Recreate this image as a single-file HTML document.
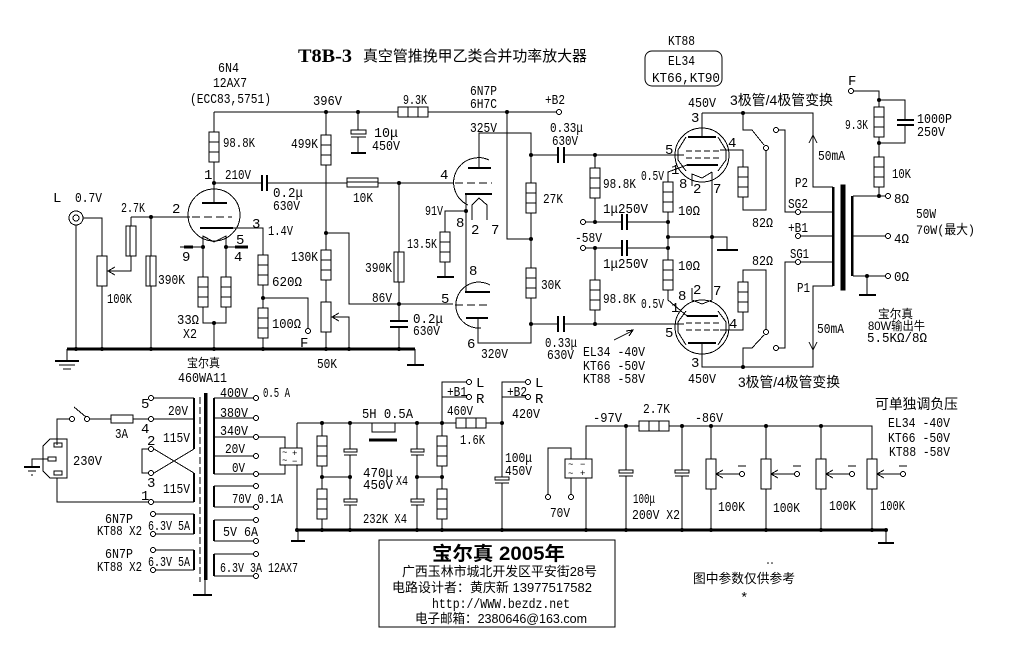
<!DOCTYPE html>
<html><head><meta charset="utf-8"><style>
html,body{margin:0;padding:0;background:#fff;}
svg{display:block}
.t{font-family:"Liberation Mono","DejaVu Sans Mono",monospace;font-size:14px;fill:#000;stroke:none}
.c{font-family:"Liberation Sans","Noto Sans CJK SC",sans-serif;font-size:14px;fill:#000;stroke:none}
.s{font-family:"Liberation Mono",monospace;font-size:9px;fill:#000;stroke:none}
</style></head><body>
<svg width="1014" height="665" viewBox="0 0 1014 665" xmlns="http://www.w3.org/2000/svg">
<rect x="0" y="0" width="1014" height="665" fill="#fff"/>
<g fill="none" stroke="#000" stroke-width="1" shape-rendering="crispEdges">
<!-- ===== PREAMP ===== -->
<path d="M214 112 H398 M428 112 H556 M214 112 V132 M214 162 V203 M214 183 H262 M267 183 H347 M378 183 H453"/>
<rect x="398" y="107" width="30" height="10" fill="#fff"/><path d="M408 107 V117 M418 107 V117"/>
<circle cx="559" cy="112" r="2.5" fill="#fff"/>
<rect x="209" y="132" width="10" height="30" fill="#fff"/><path d="M209 142 H219 M209 152 H219"/>
<path d="M262 175 V191 M267 175 V191" stroke-width="2"/>
<circle cx="214" cy="215" r="26"/>
<path d="M202 203 H227" stroke-width="2"/>
<path d="M131 217 H190"/>
<path d="M192 217 H232" stroke-dasharray="8,4"/>
<path d="M200 228 H233" stroke-width="2"/>
<path d="M233 228 H263 V255"/>
<path d="M203 247 V236 L214 242 L226 236 V247 M180 247 H203 M226 247 H248"/>
<path d="M184 247 H193 M235 247 H248" stroke-width="3"/>
<path d="M203 247 V277 M226 247 V277 M203 307 V323 H226 V307 M214 323 V349"/>
<rect x="198" y="277" width="10" height="30" fill="#fff"/><path d="M198 287 H208 M198 297 H208"/>
<rect x="221" y="277" width="10" height="30" fill="#fff"/><path d="M221 287 H231 M221 297 H231"/>
<rect x="258" y="255" width="10" height="30" fill="#fff"/><path d="M258 265 H268 M258 275 H268"/>
<path d="M263 285 V308 M263 298 H308 V328 M263 338 V349"/>
<circle cx="308" cy="331" r="2.5" fill="#fff"/>
<rect x="258" y="308" width="10" height="30" fill="#fff"/><path d="M258 318 H268 M258 328 H268"/>
<circle cx="76" cy="218" r="7"/><circle cx="76" cy="218" r="3"/>
<path d="M83 218 H102 V256 M102 286 V349 M76 225 V349"/>
<rect x="97" y="256" width="10" height="30" fill="#fff"/>
<path d="M108 271 H131 V256 M115 267 L108 271 L115 275"/>
<rect x="126" y="226" width="10" height="30" fill="#fff"/><path d="M130 226 V256"/>
<path d="M131 226 V217 M151 217 V256 M151 286 V349"/>
<rect x="146" y="256" width="10" height="30" fill="#fff"/><path d="M150 256 V286"/>
<path d="M67 349 H415" stroke-width="3"/>
<path d="M67 349 V361 M415 349 V365"/>
<path d="M55 361 H79 M407 365 H424" stroke-width="2"/>
<path d="M59 365 H75 M63 369 H71"/>
<!-- divider / 6N7P bias -->
<path d="M326 112 V135 M326 165 V250 M326 280 V302 M326 332 V349 M326 233 H349 V304 H453 M332 317 H349 V349 M339 313 L332 317 L339 321"/>
<rect x="321" y="135" width="10" height="30" fill="#fff"/><path d="M321 145 H331 M321 155 H331"/>
<rect x="321" y="250" width="10" height="30" fill="#fff"/><path d="M321 260 H331 M321 270 H331"/>
<rect x="321" y="302" width="10" height="30" fill="#fff"/>
<path d="M358 112 V130 M351 137 H366 M358 137 V153"/>
<rect x="351" y="130" width="15" height="4" fill="#fff"/>
<path d="M351 153 H366" stroke-width="2"/>
<path d="M399 183 V252 M399 282 V321 M399 327 V349"/>
<rect x="394" y="252" width="10" height="30" fill="#fff"/><path d="M398 252 V282"/>
<path d="M390 321 H408 M390 327 H408" stroke-width="2"/>
<rect x="347" y="178" width="31" height="9" fill="#fff"/><path d="M347 182 H378"/>
<!-- 6N7P -->
<path d="M507 112 V239 H531"/>
<path d="M489 160 A24 24 0 1 0 468 205"/>
<path d="M468 168 H491" stroke-width="2"/>
<path d="M479 168 V133 H531 V183 M531 213 V268 M531 298 V324"/>
<rect x="526" y="183" width="10" height="30" fill="#fff"/><path d="M526 193 H536 M526 203 H536"/>
<rect x="526" y="268" width="10" height="30" fill="#fff"/><path d="M526 278 H536 M526 288 H536"/>
<path d="M455 183 H492" stroke-dasharray="8,4"/>
<path d="M465 194 H492 M465 292 H490" stroke-width="2"/>
<path d="M466 194 V292 M466 211 H445 V232 M445 262 V277"/>
<rect x="440" y="232" width="10" height="30" fill="#fff"/><path d="M440 242 H450 M440 252 H450"/>
<path d="M437 277 H454" stroke-width="2"/>
<path d="M472 220 V205 L479 198 L487 205 V220"/>
<path d="M490 285 A23 23 0 1 0 481 328"/>
<path d="M455 305 H490" stroke-dasharray="8,4"/>
<path d="M466 318 H488" stroke-width="2"/>
<path d="M478 318 V343 H531 V324"/>
<path d="M531 155 H558 M564 155 H684 M531 324 H558 M564 324 H684"/>
<path d="M558 147 V163 M564 147 V163 M558 316 V332 M564 316 V332" stroke-width="2"/>
<!-- phase / bias network -->
<path d="M595 155 V168 M595 198 V222 M586 222 H622 M627 222 H668 M586 248 H622 M627 248 H668 M595 248 V280 M595 310 V324"/>
<rect x="590" y="168" width="10" height="30" fill="#fff"/><path d="M590 178 H600 M590 188 H600"/>
<rect x="590" y="280" width="10" height="30" fill="#fff"/><path d="M590 290 H600 M590 300 H600"/>
<path d="M622 214 V230 M627 214 V230 M622 240 V256 M627 240 V256" stroke-width="2"/>
<circle cx="583" cy="222" r="2.5" fill="#fff"/><circle cx="583" cy="248" r="2.5" fill="#fff"/>
<path d="M687 165 L668 172 V182 M668 212 V260 M668 290 V300 L687 316"/>
<rect x="663" y="182" width="10" height="30" fill="#fff"/><path d="M663 192 H673 M663 202 H673"/>
<rect x="663" y="260" width="10" height="30" fill="#fff"/><path d="M663 270 H673 M663 280 H673"/>
<path d="M668 237 H727 V250 M712 172 V300"/>
<path d="M717 250 H738" stroke-width="2"/>
<path d="M614 340 L632 331 M626 331 L633 330 L629 336"/>
<!-- KT88 upper -->
<circle cx="702" cy="155" r="27"/>
<path d="M686 137 L678 150 V160 L686 171 M718 137 L726 150 V160 L718 171"/>
<path d="M688 137 H716 M687 165 H718" stroke-width="2"/>
<path d="M686 151 H720 M686 158 H720" stroke-dasharray="6,3"/>
<path d="M692 186 V174 L702 178 L712 172"/>
<path d="M702 113 V137 M702 113 H813 V187 H833 M809 143 L813 135 L817 143"/>
<path d="M720 150 H743 V167 M743 197 V210 H766 V151"/>
<rect x="738" y="167" width="10" height="30" fill="#fff"/><path d="M738 177 H748 M738 187 H748"/>
<path d="M743 113 V130 H752 L764 145"/>
<circle cx="766" cy="148" r="2.5" fill="#fff"/>
<circle cx="776" cy="130" r="2.5" fill="#fff"/>
<path d="M779 130 H785 V212 H795 M801 212 H833 M801 236 H833 M801 262 H833 M795 262 H785 V348 H779"/>
<circle cx="798" cy="212" r="2.5" fill="#fff"/><circle cx="798" cy="236" r="2.5" fill="#fff"/><circle cx="798" cy="262" r="2.5" fill="#fff"/>
<circle cx="776" cy="348" r="2.5" fill="#fff"/>
<!-- KT88 lower -->
<circle cx="702" cy="327" r="27"/>
<path d="M686 311 L678 322 V332 L686 345 M718 311 L726 322 V332 L718 345"/>
<path d="M687 316 H718 M688 343 H716" stroke-width="2"/>
<path d="M686 323 H720 M686 330 H720" stroke-dasharray="6,3"/>
<path d="M692 288 V300 L702 304 L712 300"/>
<path d="M720 330 H743 V312 M743 282 V270 H766 V329"/>
<rect x="738" y="282" width="10" height="30" fill="#fff"/><path d="M738 292 H748 M738 302 H748"/>
<circle cx="766" cy="332" r="2.5" fill="#fff"/>
<path d="M764 335 L752 348 H743 V367"/>
<path d="M702 343 V367 H813 V286 H833 M809 342 L813 350 L817 342"/>
<!-- output transformer -->
<path d="M833 187 V286 M852 196 V276" stroke-width="2.5"/>
<rect x="841" y="185" width="4" height="105" fill="#000"/>
<path d="M853 196 H885 M853 236 H885 M853 276 H885 M867 276 V295"/>
<path d="M859 295 H876" stroke-width="2"/>
<circle cx="888" cy="196" r="2.5" fill="#fff"/><circle cx="888" cy="236" r="2.5" fill="#fff"/><circle cx="888" cy="276" r="2.5" fill="#fff"/>
<circle cx="851" cy="91" r="2.5" fill="#fff"/>
<path d="M854 91 H879 V107 M879 137 V157 M879 187 V196 M879 100 H905 V120 M905 125 V143 H879"/>
<rect x="874" y="107" width="10" height="30" fill="#fff"/><path d="M874 117 H884 M874 127 H884"/>
<rect x="874" y="157" width="10" height="30" fill="#fff"/><path d="M874 167 H884 M874 177 H884"/>
<path d="M897 120 H914 M897 125 H914" stroke-width="2"/>
<rect x="645" y="51" width="77" height="35" rx="7" shape-rendering="auto"/>
<!-- ===== POWER SUPPLY ===== -->
<rect x="204" y="393" width="3.5" height="187" fill="#000" stroke="none"/>
<path d="M200 397 V582" stroke-dasharray="7,3"/>
<path d="M205 580 V595"/>
<path d="M193 595 H212" stroke-width="2"/>
<path d="M194 398 V449 M194 473 V502 M194 514 V534 M194 550 V570 M214 398 V474 M214 486 V507 M214 520 V541 M214 554 V576" stroke-width="2"/>
<path d="M154 398 H194 M154 419 H194 M154 449 L194 473 M154 473 L194 449 M148 449 H142 V473 H148 M154 502 H194"/>
<circle cx="151" cy="398" r="2.5" fill="#fff"/><circle cx="151" cy="419" r="2.5" fill="#fff"/><circle cx="151" cy="449" r="2.5" fill="#fff"/><circle cx="151" cy="473" r="2.5" fill="#fff"/><circle cx="151" cy="502" r="2.5" fill="#fff"/>
<path d="M156 514 H194 M156 534 H194 M156 550 H194 M156 570 H194"/>
<circle cx="153" cy="514" r="2.5" fill="#fff"/><circle cx="153" cy="534" r="2.5" fill="#fff"/><circle cx="153" cy="550" r="2.5" fill="#fff"/><circle cx="153" cy="570" r="2.5" fill="#fff"/>
<path d="M57 445 V419 H69 M74 407 L86 417 M90 419 H111 M133 419 H148 M57 478 V502 H148"/>
<circle cx="72" cy="419" r="2.5" fill="#fff"/><circle cx="87" cy="419" r="2.5" fill="#fff"/>
<rect x="111" y="415" width="22" height="8" fill="#fff"/>
<path d="M50 439 H67 V478 H50 L43 471 V446 Z"/>
<rect x="54" y="443" width="8" height="4"/><rect x="48" y="457" width="8" height="4"/><rect x="54" y="471" width="8" height="4"/>
<path d="M48 459 H32 V467 M28 471 H36 M31 475 H33"/>
<path d="M24 467 H40" stroke-width="2"/>
<path d="M214 398 H253 M214 418 H253 M214 437 H253 M214 456 H253 M214 474 H253 M214 486 H253 M214 507 H253 M214 520 H253 M214 541 H253 M214 554 H253 M214 576 H253"/>
<circle cx="256" cy="398" r="2.5" fill="#fff"/><circle cx="256" cy="418" r="2.5" fill="#fff"/><circle cx="256" cy="437" r="2.5" fill="#fff"/><circle cx="256" cy="456" r="2.5" fill="#fff"/><circle cx="256" cy="474" r="2.5" fill="#fff"/>
<circle cx="256" cy="486" r="2.5" fill="#fff"/><circle cx="256" cy="507" r="2.5" fill="#fff"/><circle cx="256" cy="520" r="2.5" fill="#fff"/><circle cx="256" cy="541" r="2.5" fill="#fff"/><circle cx="256" cy="554" r="2.5" fill="#fff"/><circle cx="256" cy="576" r="2.5" fill="#fff"/>
<path d="M259 437 H285 V448 M259 474 H285 V465"/>
<rect x="280" y="448" width="22" height="17" fill="#fff"/>
<path d="M297 423 V448 M297 465 V530"/>
<path d="M297 530 H886" stroke-width="3"/>
<path d="M298 530 V541 M886 530 V543"/>
<path d="M291 541 H305 M878 543 H894" stroke-width="2"/>
<path d="M297 423 H456 M486 423 H502"/>
<rect x="456" y="418" width="30" height="10" fill="#fff"/><path d="M466 418 V428 M476 418 V428"/>
<path d="M322 423 V436 M322 466 V489 M322 519 V530 M442 423 V436 M442 466 V489 M442 519 V530"/>
<rect x="317" y="436" width="10" height="30" fill="#fff"/><path d="M317 446 H327 M317 456 H327"/>
<rect x="317" y="489" width="10" height="30" fill="#fff"/><path d="M317 499 H327 M317 509 H327"/>
<rect x="437" y="436" width="10" height="30" fill="#fff"/><path d="M437 446 H447 M437 456 H447"/>
<rect x="437" y="489" width="10" height="30" fill="#fff"/><path d="M437 499 H447 M437 509 H447"/>
<path d="M350 423 V449 M344 455 H357 M350 455 V499 M344 505 H357 M350 505 V530"/>
<rect x="344" y="449" width="13" height="3" fill="#fff"/><rect x="344" y="499" width="13" height="3" fill="#fff"/>
<path d="M417 423 V449 M411 455 H424 M417 455 V499 M411 505 H424 M417 505 V530"/>
<rect x="411" y="449" width="13" height="3" fill="#fff"/><rect x="411" y="499" width="13" height="3" fill="#fff"/>
<path d="M350 423 H372 V432 H395 V423 H417"/>
<path d="M369 440 H397" stroke-width="3"/>
<path d="M322 477 H350 M417 477 H442"/>
<path d="M442 423 V382 H466 M442 397 H466 M502 423 V382 H525 M502 397 H525"/>
<circle cx="469" cy="382" r="2.5" fill="#fff"/><circle cx="469" cy="397" r="2.5" fill="#fff"/><circle cx="528" cy="382" r="2.5" fill="#fff"/><circle cx="528" cy="397" r="2.5" fill="#fff"/>
<path d="M502 423 V477 M495 483 H509 M502 483 V530"/>
<rect x="495" y="477" width="14" height="3" fill="#fff"/>
<!-- negative supply -->
<path d="M548 494 V448 H571 V459 M571 478 V494"/>
<circle cx="548" cy="497" r="2.5" fill="#fff"/><circle cx="571" cy="497" r="2.5" fill="#fff"/>
<rect x="565" y="459" width="27" height="19" fill="#fff"/>
<path d="M586 459 V426 H639 M669 426 H872 V459 M586 478 V530"/>
<rect x="639" y="421" width="30" height="10" fill="#fff"/><path d="M649 421 V431 M659 421 V431"/>
<path d="M626 426 V470 M619 476 H633 M626 476 V530 M682 426 V470 M675 476 H689 M682 476 V530"/>
<rect x="619" y="470" width="14" height="3" fill="#fff"/><rect x="675" y="470" width="14" height="3" fill="#fff"/>
<path d="M711 426 V459 M711 489 V530 M716 474 H739 M723 470 L716 474 L723 478 M738 466 H746"/>
<rect x="706" y="459" width="10" height="30" fill="#fff"/><circle cx="742" cy="474" r="2.5" fill="#fff"/>
<path d="M766 426 V459 M766 489 V530 M771 474 H794 M778 470 L771 474 L778 478 M793 466 H801"/>
<rect x="761" y="459" width="10" height="30" fill="#fff"/><circle cx="797" cy="474" r="2.5" fill="#fff"/>
<path d="M821 426 V459 M821 489 V530 M826 474 H849 M833 470 L826 474 L833 478 M848 466 H856"/>
<rect x="816" y="459" width="10" height="30" fill="#fff"/><circle cx="852" cy="474" r="2.5" fill="#fff"/>
<path d="M872 489 V530 M877 474 H900 M884 470 L877 474 L884 478 M899 466 H907"/>
<rect x="867" y="459" width="10" height="30" fill="#fff"/><circle cx="903" cy="474" r="2.5" fill="#fff"/>
<rect x="379" y="540" width="236" height="87"/>
</g>
<!-- nodes -->
<g fill="#000">
<circle cx="214" cy="183" r="2"/><circle cx="151" cy="217" r="2"/><circle cx="203" cy="247" r="2"/><circle cx="226" cy="247" r="2"/><circle cx="214" cy="323" r="2"/><circle cx="263" cy="298" r="2"/>
<circle cx="76" cy="349" r="2"/><circle cx="102" cy="349" r="2"/><circle cx="151" cy="349" r="2"/><circle cx="214" cy="349" r="2"/><circle cx="263" cy="349" r="2"/><circle cx="326" cy="349" r="2"/><circle cx="349" cy="349" r="2"/><circle cx="399" cy="349" r="2"/>
<circle cx="326" cy="112" r="2"/><circle cx="358" cy="112" r="2"/><circle cx="507" cy="112" r="2"/><circle cx="326" cy="233" r="2"/><circle cx="399" cy="183" r="2"/><circle cx="399" cy="304" r="2"/>
<circle cx="531" cy="155" r="2"/><circle cx="531" cy="239" r="2"/><circle cx="531" cy="324" r="2"/><circle cx="466" cy="211" r="2"/>
<circle cx="595" cy="155" r="2"/><circle cx="595" cy="222" r="2"/><circle cx="595" cy="248" r="2"/><circle cx="595" cy="324" r="2"/>
<circle cx="668" cy="222" r="2"/><circle cx="668" cy="237" r="2"/><circle cx="668" cy="248" r="2"/><circle cx="712" cy="237" r="2"/>
<circle cx="743" cy="113" r="2"/><circle cx="743" cy="367" r="2"/><circle cx="879" cy="100" r="2"/><circle cx="879" cy="143" r="2"/><circle cx="879" cy="196" r="2"/><circle cx="867" cy="276" r="2"/>
<circle cx="322" cy="423" r="2"/><circle cx="350" cy="423" r="2"/><circle cx="417" cy="423" r="2"/><circle cx="442" cy="423" r="2"/><circle cx="502" cy="423" r="2"/>
<circle cx="322" cy="477" r="2"/><circle cx="350" cy="477" r="2"/><circle cx="417" cy="477" r="2"/><circle cx="442" cy="477" r="2"/>
<circle cx="297" cy="530" r="2"/><circle cx="322" cy="530" r="2"/><circle cx="350" cy="530" r="2"/><circle cx="417" cy="530" r="2"/><circle cx="442" cy="530" r="2"/><circle cx="502" cy="530" r="2"/>
<circle cx="586" cy="530" r="2"/><circle cx="626" cy="530" r="2"/><circle cx="682" cy="530" r="2"/><circle cx="711" cy="530" r="2"/><circle cx="766" cy="530" r="2"/><circle cx="821" cy="530" r="2"/><circle cx="872" cy="530" r="2"/><circle cx="886" cy="530" r="2"/>
<circle cx="626" cy="426" r="2"/><circle cx="682" cy="426" r="2"/><circle cx="711" cy="426" r="2"/><circle cx="766" cy="426" r="2"/><circle cx="821" cy="426" r="2"/>
<circle cx="768" cy="563" r="0.8"/><circle cx="772" cy="563" r="0.8"/>
</g>
<!-- rectifier symbols -->
<text class="s" x="282" y="455">~</text><text class="s" x="282" y="463">~</text><text class="s" x="292" y="456">+</text><text class="s" x="292" y="464">−</text>
<text class="s" x="568" y="467">~</text><text class="s" x="568" y="476">~</text><text class="s" x="580" y="467">−</text><text class="s" x="580" y="476">+</text>
<!-- title -->
<text x="298" y="62" font-family="Liberation Serif, serif" font-weight="bold" font-size="19" textLength="54" lengthAdjust="spacingAndGlyphs">T8B-3</text>
<text class="c" x="363" y="61" style="font-size:15px" textLength="224" lengthAdjust="spacingAndGlyphs">真空管推挽甲乙类合并功率放大器</text>
<!-- mono labels -->
<g class="t">
<text x="218" y="72" textLength="21" lengthAdjust="spacingAndGlyphs">6N4</text>
<text x="213" y="87" textLength="34" lengthAdjust="spacingAndGlyphs">12AX7</text>
<text x="190" y="103" textLength="81" lengthAdjust="spacingAndGlyphs">(ECC83,5751)</text>
<text x="313" y="105" textLength="29" lengthAdjust="spacingAndGlyphs">396V</text>
<text x="223" y="147" textLength="32" lengthAdjust="spacingAndGlyphs">98.8K</text>
<text x="204" y="179">1</text>
<text x="225" y="179" textLength="26" lengthAdjust="spacingAndGlyphs">210V</text>
<text x="273" y="197" textLength="30" lengthAdjust="spacingAndGlyphs">0.2μ</text>
<text x="273" y="210" textLength="27" lengthAdjust="spacingAndGlyphs">630V</text>
<text x="53" y="202">L</text>
<text x="75" y="202" textLength="27" lengthAdjust="spacingAndGlyphs">0.7V</text>
<text x="121" y="212" textLength="24" lengthAdjust="spacingAndGlyphs">2.7K</text>
<text x="172" y="213">2</text>
<text x="252" y="228">3</text>
<text x="268" y="235" textLength="25" lengthAdjust="spacingAndGlyphs">1.4V</text>
<text x="236" y="244">5</text>
<text x="182" y="261">9</text>
<text x="234" y="261">4</text>
<text x="107" y="303" textLength="25" lengthAdjust="spacingAndGlyphs">100K</text>
<text x="158" y="284" textLength="27" lengthAdjust="spacingAndGlyphs">390K</text>
<text x="272" y="286" textLength="30" lengthAdjust="spacingAndGlyphs">620Ω</text>
<text x="177" y="324" textLength="22" lengthAdjust="spacingAndGlyphs">33Ω</text>
<text x="183" y="338" textLength="14" lengthAdjust="spacingAndGlyphs">X2</text>
<text x="272" y="328" textLength="29" lengthAdjust="spacingAndGlyphs">100Ω</text>
<text x="300" y="347">F</text>
<text x="291" y="148" textLength="27" lengthAdjust="spacingAndGlyphs">499K</text>
<text x="291" y="261" textLength="27" lengthAdjust="spacingAndGlyphs">130K</text>
<text x="317" y="368" textLength="20" lengthAdjust="spacingAndGlyphs">50K</text>
<text x="403" y="104" textLength="24" lengthAdjust="spacingAndGlyphs">9.3K</text>
<text x="470" y="95" textLength="27" lengthAdjust="spacingAndGlyphs">6N7P</text>
<text x="470" y="108" textLength="27" lengthAdjust="spacingAndGlyphs">6H7C</text>
<text x="545" y="104" textLength="20" lengthAdjust="spacingAndGlyphs">+B2</text>
<text x="374" y="137" textLength="24" lengthAdjust="spacingAndGlyphs">10μ</text>
<text x="372" y="150" textLength="28" lengthAdjust="spacingAndGlyphs">450V</text>
<text x="470" y="132" textLength="27" lengthAdjust="spacingAndGlyphs">325V</text>
<text x="550" y="132" textLength="33" lengthAdjust="spacingAndGlyphs">0.33μ</text>
<text x="552" y="145" textLength="26" lengthAdjust="spacingAndGlyphs">630V</text>
<text x="440" y="179">4</text>
<text x="353" y="202" textLength="20" lengthAdjust="spacingAndGlyphs">10K</text>
<text x="543" y="203" textLength="20" lengthAdjust="spacingAndGlyphs">27K</text>
<text x="425" y="215" textLength="18" lengthAdjust="spacingAndGlyphs">91V</text>
<text x="456" y="227">8</text>
<text x="471" y="234">2</text>
<text x="491" y="234">7</text>
<text x="407" y="248" textLength="30" lengthAdjust="spacingAndGlyphs">13.5K</text>
<text x="365" y="272" textLength="27" lengthAdjust="spacingAndGlyphs">390K</text>
<text x="469" y="275">8</text>
<text x="541" y="289" textLength="20" lengthAdjust="spacingAndGlyphs">30K</text>
<text x="372" y="302" textLength="20" lengthAdjust="spacingAndGlyphs">86V</text>
<text x="441" y="303">5</text>
<text x="413" y="323" textLength="30" lengthAdjust="spacingAndGlyphs">0.2μ</text>
<text x="413" y="335" textLength="27" lengthAdjust="spacingAndGlyphs">630V</text>
<text x="467" y="348">6</text>
<text x="481" y="358" textLength="27" lengthAdjust="spacingAndGlyphs">320V</text>
<text x="545" y="347" textLength="32" lengthAdjust="spacingAndGlyphs">0.33μ</text>
<text x="547" y="359" textLength="27" lengthAdjust="spacingAndGlyphs">630V</text>
<text x="603" y="188" textLength="33" lengthAdjust="spacingAndGlyphs">98.8K</text>
<text x="603" y="303" textLength="33" lengthAdjust="spacingAndGlyphs">98.8K</text>
<text x="641" y="180" textLength="23" lengthAdjust="spacingAndGlyphs">0.5V</text>
<text x="641" y="308" textLength="23" lengthAdjust="spacingAndGlyphs">0.5V</text>
<text x="603" y="213" textLength="45" lengthAdjust="spacingAndGlyphs">1μ250V</text>
<text x="603" y="268" textLength="45" lengthAdjust="spacingAndGlyphs">1μ250V</text>
<text x="575" y="242" textLength="27" lengthAdjust="spacingAndGlyphs">-58V</text>
<text x="583" y="356" textLength="62" lengthAdjust="spacingAndGlyphs">EL34 -40V</text>
<text x="583" y="370" textLength="62" lengthAdjust="spacingAndGlyphs">KT66 -50V</text>
<text x="583" y="383" textLength="62" lengthAdjust="spacingAndGlyphs">KT88 -58V</text>
<text x="668" y="45" textLength="27" lengthAdjust="spacingAndGlyphs">KT88</text>
<text x="668" y="65" textLength="27" lengthAdjust="spacingAndGlyphs">EL34</text>
<text x="652" y="82" textLength="68" lengthAdjust="spacingAndGlyphs">KT66,KT90</text>
<text x="688" y="107" textLength="28" lengthAdjust="spacingAndGlyphs">450V</text>
<text x="691" y="122">3</text>
<text x="665" y="154">5</text>
<text x="728" y="147">4</text>
<text x="671" y="174">1</text>
<text x="679" y="188">8</text>
<text x="693" y="193">2</text>
<text x="713" y="193">7</text>
<text x="678" y="215" textLength="22" lengthAdjust="spacingAndGlyphs">10Ω</text>
<text x="678" y="270" textLength="22" lengthAdjust="spacingAndGlyphs">10Ω</text>
<text x="752" y="227" textLength="21" lengthAdjust="spacingAndGlyphs">82Ω</text>
<text x="752" y="265" textLength="21" lengthAdjust="spacingAndGlyphs">82Ω</text>
<text x="678" y="300">8</text>
<text x="693" y="294">2</text>
<text x="713" y="295">7</text>
<text x="671" y="312">1</text>
<text x="665" y="337">5</text>
<text x="729" y="328">4</text>
<text x="691" y="367">3</text>
<text x="688" y="383" textLength="28" lengthAdjust="spacingAndGlyphs">450V</text>
<text x="818" y="160" textLength="27" lengthAdjust="spacingAndGlyphs">50mA</text>
<text x="817" y="333" textLength="27" lengthAdjust="spacingAndGlyphs">50mA</text>
<text x="795" y="187" textLength="13" lengthAdjust="spacingAndGlyphs">P2</text>
<text x="788" y="208" textLength="20" lengthAdjust="spacingAndGlyphs">SG2</text>
<text x="788" y="232" textLength="20" lengthAdjust="spacingAndGlyphs">+B1</text>
<text x="790" y="258" textLength="19" lengthAdjust="spacingAndGlyphs">SG1</text>
<text x="797" y="292" textLength="13" lengthAdjust="spacingAndGlyphs">P1</text>
<text x="848" y="85">F</text>
<text x="845" y="129" textLength="23" lengthAdjust="spacingAndGlyphs">9.3K</text>
<text x="917" y="123" textLength="35" lengthAdjust="spacingAndGlyphs">1000P</text>
<text x="917" y="136" textLength="28" lengthAdjust="spacingAndGlyphs">250V</text>
<text x="892" y="178" textLength="19" lengthAdjust="spacingAndGlyphs">10K</text>
<text x="894" y="203" textLength="15" lengthAdjust="spacingAndGlyphs">8Ω</text>
<text x="894" y="243" textLength="15" lengthAdjust="spacingAndGlyphs">4Ω</text>
<text x="894" y="281" textLength="15" lengthAdjust="spacingAndGlyphs">0Ω</text>
<text x="916" y="218" textLength="20" lengthAdjust="spacingAndGlyphs">50W</text>
<text x="178" y="382" textLength="49" lengthAdjust="spacingAndGlyphs">460WA11</text>
<text x="141" y="408">5</text>
<text x="168" y="415" textLength="20" lengthAdjust="spacingAndGlyphs">20V</text>
<text x="141" y="433">4</text>
<text x="115" y="438" textLength="13" lengthAdjust="spacingAndGlyphs">3A</text>
<text x="147" y="445">2</text>
<text x="163" y="442" textLength="27" lengthAdjust="spacingAndGlyphs">115V</text>
<text x="73" y="465" textLength="29" lengthAdjust="spacingAndGlyphs">230V</text>
<text x="147" y="487">3</text>
<text x="163" y="493" textLength="27" lengthAdjust="spacingAndGlyphs">115V</text>
<text x="141" y="500">1</text>
<text x="220" y="397" textLength="28" lengthAdjust="spacingAndGlyphs">400V</text>
<text x="263" y="397" textLength="27" lengthAdjust="spacingAndGlyphs">0.5 A</text>
<text x="220" y="417" textLength="28" lengthAdjust="spacingAndGlyphs">380V</text>
<text x="220" y="435" textLength="28" lengthAdjust="spacingAndGlyphs">340V</text>
<text x="225" y="453" textLength="20" lengthAdjust="spacingAndGlyphs">20V</text>
<text x="232" y="472" textLength="13" lengthAdjust="spacingAndGlyphs">0V</text>
<text x="232" y="503" textLength="51" lengthAdjust="spacingAndGlyphs">70V 0.1A</text>
<text x="223" y="536" textLength="35" lengthAdjust="spacingAndGlyphs">5V  6A</text>
<text x="220" y="572" textLength="78" lengthAdjust="spacingAndGlyphs">6.3V 3A 12AX7</text>
<text x="105" y="523" textLength="28" lengthAdjust="spacingAndGlyphs">6N7P</text>
<text x="97" y="535" textLength="45" lengthAdjust="spacingAndGlyphs">KT88 X2</text>
<text x="148" y="530" textLength="42" lengthAdjust="spacingAndGlyphs">6.3V 5A</text>
<text x="105" y="558" textLength="28" lengthAdjust="spacingAndGlyphs">6N7P</text>
<text x="97" y="571" textLength="45" lengthAdjust="spacingAndGlyphs">KT88 X2</text>
<text x="148" y="566" textLength="42" lengthAdjust="spacingAndGlyphs">6.3V 5A</text>
<text x="362" y="418" textLength="51" lengthAdjust="spacingAndGlyphs">5H 0.5A</text>
<text x="363" y="477" textLength="30" lengthAdjust="spacingAndGlyphs">470μ</text>
<text x="363" y="489" textLength="30" lengthAdjust="spacingAndGlyphs">450V</text>
<text x="396" y="485" textLength="12" lengthAdjust="spacingAndGlyphs">X4</text>
<text x="363" y="523" textLength="44" lengthAdjust="spacingAndGlyphs">232K X4</text>
<text x="476" y="387">L</text>
<text x="476" y="403">R</text>
<text x="447" y="396" textLength="20" lengthAdjust="spacingAndGlyphs">+B1</text>
<text x="447" y="415" textLength="26" lengthAdjust="spacingAndGlyphs">460V</text>
<text x="460" y="444" textLength="25" lengthAdjust="spacingAndGlyphs">1.6K</text>
<text x="535" y="387">L</text>
<text x="535" y="403">R</text>
<text x="507" y="396" textLength="20" lengthAdjust="spacingAndGlyphs">+B2</text>
<text x="512" y="418" textLength="28" lengthAdjust="spacingAndGlyphs">420V</text>
<text x="505" y="462" textLength="27" lengthAdjust="spacingAndGlyphs">100μ</text>
<text x="505" y="475" textLength="27" lengthAdjust="spacingAndGlyphs">450V</text>
<text x="550" y="517" textLength="20" lengthAdjust="spacingAndGlyphs">70V</text>
<text x="593" y="422" textLength="29" lengthAdjust="spacingAndGlyphs">-97V</text>
<text x="643" y="413" textLength="27" lengthAdjust="spacingAndGlyphs">2.7K</text>
<text x="695" y="422" textLength="28" lengthAdjust="spacingAndGlyphs">-86V</text>
<text x="633" y="503" textLength="22" lengthAdjust="spacingAndGlyphs">100μ</text>
<text x="632" y="519" textLength="48" lengthAdjust="spacingAndGlyphs">200V X2</text>
<text x="718" y="511" textLength="27" lengthAdjust="spacingAndGlyphs">100K</text>
<text x="773" y="512" textLength="27" lengthAdjust="spacingAndGlyphs">100K</text>
<text x="829" y="510" textLength="27" lengthAdjust="spacingAndGlyphs">100K</text>
<text x="880" y="510" textLength="25" lengthAdjust="spacingAndGlyphs">100K</text>
<text x="888" y="427" textLength="62" lengthAdjust="spacingAndGlyphs">EL34 -40V</text>
<text x="888" y="442" textLength="62" lengthAdjust="spacingAndGlyphs">KT66 -50V</text>
<text x="889" y="456" textLength="61" lengthAdjust="spacingAndGlyphs">KT88 -58V</text>
<text x="867" y="342" textLength="60" lengthAdjust="spacingAndGlyphs">5.5KΩ/8Ω</text>
<text x="432" y="608" textLength="138" lengthAdjust="spacingAndGlyphs">http://WWW.bezdz.net</text>
<text x="740" y="602">*</text>
</g>
<!-- CJK labels -->
<g class="c">
<text x="730" y="105" textLength="103" lengthAdjust="spacingAndGlyphs">3极管/4极管变换</text>
<text x="738" y="387" textLength="102" lengthAdjust="spacingAndGlyphs">3极管/4极管变换</text>
<text x="187" y="367" style="font-size:12px" textLength="33" lengthAdjust="spacingAndGlyphs">宝尔真</text>
<text x="916" y="234" style="font-family:'Liberation Mono','Noto Sans CJK SC',monospace;font-size:13px" textLength="59" lengthAdjust="spacingAndGlyphs">70W(最大)</text>
<text x="878" y="318" style="font-size:12px" textLength="35" lengthAdjust="spacingAndGlyphs">宝尔真</text>
<text x="868" y="330" style="font-size:12px" textLength="57" lengthAdjust="spacingAndGlyphs">80W输出牛</text>
<text x="875" y="409" textLength="83" lengthAdjust="spacingAndGlyphs">可单独调负压</text>
<text x="693" y="583" style="font-size:13px" textLength="102" lengthAdjust="spacingAndGlyphs">图中参数仅供参考</text>
<text x="432" y="560" style="font-size:19px;font-weight:bold" textLength="133" lengthAdjust="spacingAndGlyphs">宝尔真 2005年</text>
<text x="402" y="576" style="font-size:13px" textLength="195" lengthAdjust="spacingAndGlyphs">广西玉林市城北开发区平安街28号</text>
<text x="392" y="592" style="font-size:13px" textLength="200" lengthAdjust="spacingAndGlyphs">电路设计者：黄庆新 13977517582</text>
<text x="415" y="623" style="font-size:13px" textLength="172" lengthAdjust="spacingAndGlyphs">电子邮箱：2380646@163.com</text>
</g>
</svg>
</body></html>
